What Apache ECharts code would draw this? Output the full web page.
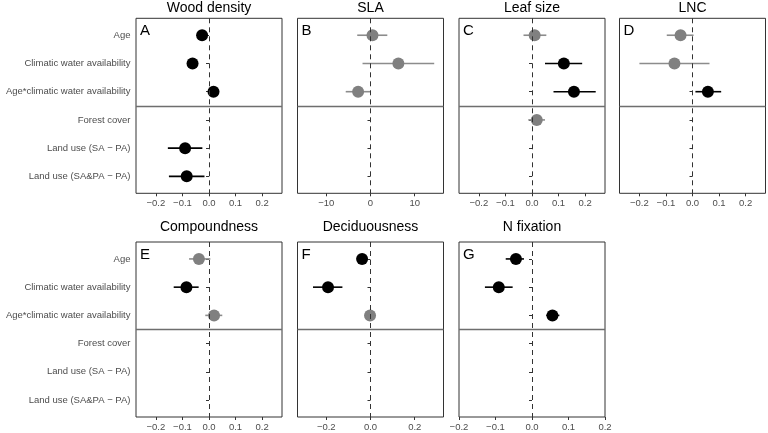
<!DOCTYPE html>
<html>
<head>
<meta charset="utf-8">
<script src="https://cdn.jsdelivr.net/npm/echarts@6/dist/echarts.min.js"></script>
<style>html,body{margin:0;padding:0;background:#fff}#c{width:768px;height:433px}</style>
</head>
<body>
<div id="c"></div>
<script>
// ---- data ----
const traits = ['Wood density', 'SLA', 'Leaf size', 'LNC', 'Compoundness', 'Deciduousness', 'N fixation'];
const letters = ['A', 'B', 'C', 'D', 'E', 'F', 'G'];
const terms = ['Age', 'Climatic water availability', 'Age*climatic water availability',
  'Forest cover', 'Land use (SA \u2212 PA)', 'Land use (SA&PA \u2212 PA)'];

const woodEst = [-0.026, -0.062, 0.017, null, -0.090, -0.084];
const woodLo  = [-0.036, -0.072, 0.007, null, -0.155, -0.151];
const woodHi  = [-0.016, -0.052, 0.027, null, -0.025, -0.017];
const woodSig = [1, 1, 1, 0, 1, 1];

const slaEst = [0.45, 6.3, -2.8, null, null, null];
const slaLo  = [-3.0, -1.8, -5.6, null, null, null];
const slaHi  = [3.8, 14.4, 0.0, null, null, null];
const slaSig = [0, 0, 0, 0, 0, 0];

const leafEst = [0.010, 0.120, 0.158, 0.018, null, null];
const leafLo  = [-0.032, 0.049, 0.081, -0.014, null, null];
const leafHi  = [0.054, 0.189, 0.240, 0.049, null, null];
const leafSig = [0, 1, 1, 0, 0, 0];

const lncEst = [-0.045, -0.068, 0.058, null, null, null];
const lncLo  = [-0.097, -0.200, 0.011, null, null, null];
const lncHi  = [0.004, 0.064, 0.108, null, null, null];
const lncSig = [0, 0, 1, 0, 0, 0];

const compEst = [-0.038, -0.085, 0.019, null, null, null];
const compLo  = [-0.075, -0.133, -0.014, null, null, null];
const compHi  = [0.005, -0.039, 0.050, null, null, null];
const compSig = [0, 1, 0, 0, 0, 0];

const decEst = [-0.038, -0.192, -0.002, null, null, null];
const decLo  = [-0.060, -0.260, -0.010, null, null, null];
const decHi  = [-0.015, -0.127, 0.006, null, null, null];
const decSig = [1, 1, 0, 0, 0, 0];

const nfixEst = [-0.044, -0.091, 0.056, null, null, null];
const nfixLo  = [-0.072, -0.129, 0.039, null, null, null];
const nfixHi  = [-0.022, -0.053, 0.075, null, null, null];
const nfixSig = [1, 1, 1, 0, 0, 0];

// x-axis tick labels and extents
const ticksFine = [-0.2, -0.1, 0, 0.1, 0.2];
const ticksSla = [-10, 0, 10];
const ticksDec = [-0.2, 0, 0.2];

const panels = [
  {est: woodEst, lo: woodLo, hi: woodHi, sig: woodSig, ticks: ticksFine, min: -0.275, max: 0.275, dec: 1},
  {est: slaEst, lo: slaLo, hi: slaHi, sig: slaSig, ticks: ticksSla, min: -16.5, max: 16.5, dec: 0},
  {est: leafEst, lo: leafLo, hi: leafHi, sig: leafSig, ticks: ticksFine, min: -0.275, max: 0.275, dec: 1},
  {est: lncEst, lo: lncLo, hi: lncHi, sig: lncSig, ticks: ticksFine, min: -0.275, max: 0.275, dec: 1},
  {est: compEst, lo: compLo, hi: compHi, sig: compSig, ticks: ticksFine, min: -0.275, max: 0.275, dec: 1},
  {est: decEst, lo: decLo, hi: decHi, sig: decSig, ticks: ticksDec, min: -0.33, max: 0.33, dec: 1},
  {est: nfixEst, lo: nfixLo, hi: nfixHi, sig: nfixSig, ticks: ticksFine, min: -0.2, max: 0.2, dec: 1}
];

// ---- layout ----
const colLeft = [136, 297.5, 459, 619.5];
const rowTop = [18.3, 242];
const pW = 146, pH = 175;
const FONT = '"Liberation Sans", Arial, Helvetica, sans-serif';
const BLACK = '#000000', GREY = '#808080', GREY_LINE = '#8c8c8c';

const grids = [], xAxes = [], yAxes = [], series = [], graphics = [];

panels.forEach((p, i) => {
  const col = i % 4, row = Math.floor(i / 4);
  const left = colLeft[col], top = rowTop[row];
  grids.push({
    left: left, top: top, width: pW, height: pH,
    show: true, borderColor: '#333333', borderWidth: 1, backgroundColor: 'transparent',
    containLabel: false, outerBoundsMode: 'none'
  });
  xAxes.push({
    type: 'value', gridIndex: i, min: p.min, max: p.max,
    splitLine: {show: false},
    axisLine: {show: false},
    axisTick: {show: true, length: 3, inside: false, customValues: p.ticks, lineStyle: {color: '#333333', width: 1}},
    axisLabel: {
      show: true, customValues: p.ticks, margin: 5, color: '#4d4d4d', fontSize: 9.5, fontFamily: FONT,
      formatter: v => {
        const s = Math.abs(v) < 1e-9 ? (0).toFixed(p.dec) : Number(v).toFixed(p.dec);
        return s.replace('-', '\u2212');
      }
    }
  });
  yAxes.push({
    type: 'value', gridIndex: i, min: 0.4, max: 6.6, inverse: true,
    splitLine: {show: false},
    axisLine: {show: false},
    axisTick: {show: true, length: 3, inside: false, customValues: [1, 2, 3, 4, 5, 6], lineStyle: {color: '#333333', width: 1}},
    axisLabel: {
      show: col === 0, customValues: [1, 2, 3, 4, 5, 6], margin: 5.5, color: '#4d4d4d', fontSize: 9.5, fontFamily: FONT,
      formatter: v => terms[Math.round(v) - 1] || ''
    }
  });

  const ciData = [], ptData = [];
  p.est.forEach((e, k) => {
    if (e === null) return;
    ciData.push([p.lo[k], p.hi[k], k + 1, p.sig[k]]);
    ptData.push({value: [e, k + 1], itemStyle: {color: p.sig[k] ? BLACK : GREY}});
  });

  series.push({
    type: 'custom', xAxisIndex: i, yAxisIndex: i, z: 2, silent: true,
    data: ciData,
    encode: {x: [0, 1], y: 2},
    renderItem: (params, api) => {
      const a = api.coord([api.value(0), api.value(2)]);
      const b = api.coord([api.value(1), api.value(2)]);
      return {
        type: 'line',
        shape: {x1: a[0], y1: a[1], x2: b[0], y2: b[1]},
        style: {stroke: api.value(3) ? BLACK : GREY_LINE, lineWidth: 1.6}
      };
    },
    markLine: {
      silent: true, symbol: 'none', label: {show: false}, animation: false,
      data: [
        {xAxis: 0, lineStyle: {type: [5, 4], color: '#333333', width: 1}},
        {yAxis: 3.5, lineStyle: {type: 'solid', color: '#6e6e6e', width: 1.3}}
      ]
    }
  });
  series.push({
    type: 'scatter', xAxisIndex: i, yAxisIndex: i, z: 3, silent: true,
    symbol: 'circle', symbolSize: 12,
    itemStyle: {opacity: 1},
    data: ptData
  });

  graphics.push({
    type: 'text',
    x: left + pW / 2, y: row === 0 ? 8.5 : 227.5,
    style: {text: traits[i], fill: '#000', font: '14px ' + FONT, textAlign: 'center', textVerticalAlign: 'middle'}
  });
  graphics.push({
    type: 'text',
    x: left + 4, y: top + 12.5,
    style: {text: letters[i], fill: '#000', font: '15px ' + FONT, textAlign: 'left', textVerticalAlign: 'middle'}
  });
});

const chart = echarts.init(document.getElementById('c'), null, {renderer: 'canvas'});
chart.setOption({
  animation: false,
  backgroundColor: '#ffffff',
  grid: grids,
  xAxis: xAxes,
  yAxis: yAxes,
  series: series,
  graphic: graphics
});
</script>
</body>
</html>
